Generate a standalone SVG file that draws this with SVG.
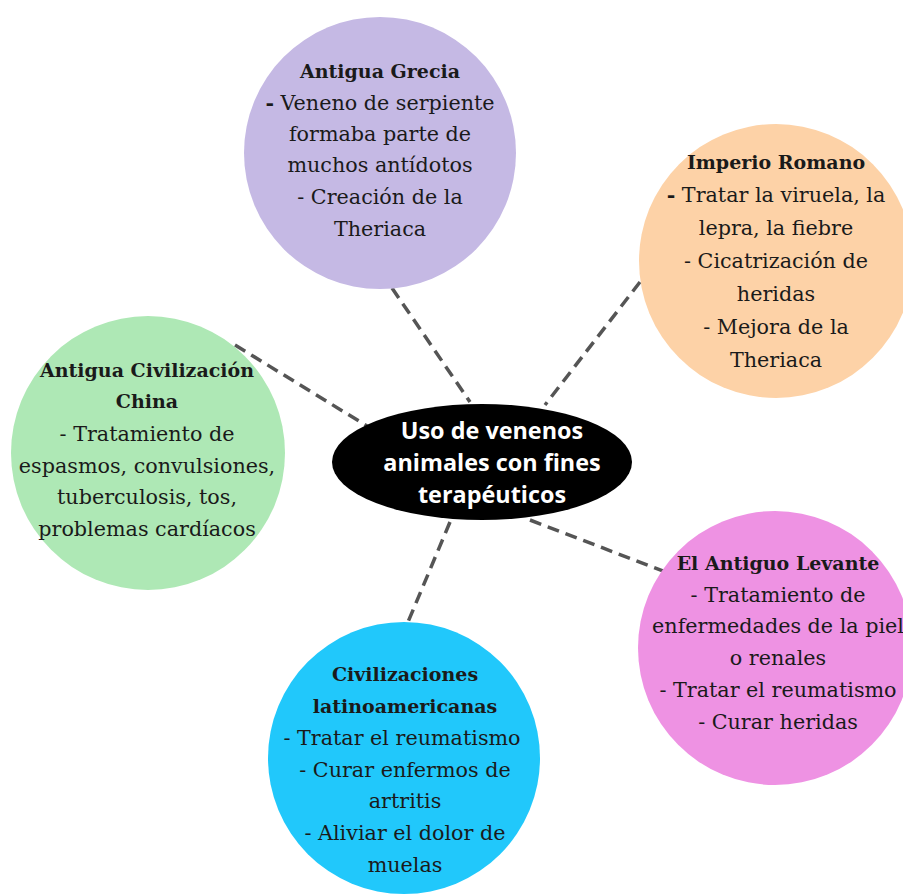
<svg xmlns="http://www.w3.org/2000/svg" width="903" height="894" viewBox="0 0 903 894">
<style>
.t{font-family:"DejaVu Serif","Liberation Serif",serif;font-size:20.7px;fill:#1a1a1a;text-anchor:middle}
.b{font-weight:bold;font-size:19px}
.d{font-weight:bold}
.c{font-family:"Open Sans","DejaVu Sans",sans-serif;font-size:23.4px;font-weight:bold;fill:#fff;text-anchor:middle}
.e{stroke:#555;stroke-width:3.5;stroke-dasharray:12 7;fill:none}
</style>
<rect width="903" height="894" fill="#fff"/>
<g id="connectors">
<line class="e" x1="392" y1="288" x2="470" y2="402"/>
<line class="e" x1="640" y1="282" x2="545" y2="405"/>
<line class="e" x1="235" y1="345" x2="367" y2="426"/>
<line class="e" x1="530" y1="520" x2="676" y2="576"/>
<line class="e" x1="450" y1="522" x2="408" y2="622"/>
</g>
<g id="grecia">
<circle cx="380" cy="153" r="136" fill="#c5b9e4"/>
<text class="t"><tspan class="b" x="380" y="78">Antigua Grecia</tspan><tspan x="380" y="110"><tspan class="d">-</tspan> Veneno de serpiente</tspan><tspan x="380" y="141">formaba parte de</tspan><tspan x="380" y="172">muchos antídotos</tspan><tspan x="380" y="204">- Creación de la</tspan><tspan x="380" y="236">Theriaca</tspan></text>
</g>
<g id="romano">
<circle cx="776" cy="261" r="137" fill="#fdd2a7"/>
<text class="t"><tspan class="b" x="776" y="169">Imperio Romano</tspan><tspan x="776" y="202"><tspan class="d">-</tspan> Tratar la viruela, la</tspan><tspan x="776" y="235">lepra, la fiebre</tspan><tspan x="776" y="268">- Cicatrización de</tspan><tspan x="776" y="301">heridas</tspan><tspan x="776" y="334">- Mejora de la</tspan><tspan x="776" y="367">Theriaca</tspan></text>
</g>
<g id="china">
<circle cx="148" cy="453" r="137" fill="#aee8b5"/>
<text class="t"><tspan class="b" x="147" y="377">Antigua Civilización</tspan><tspan class="b" x="147" y="408">China</tspan><tspan x="147" y="441">- Tratamiento de</tspan><tspan x="147" y="473">espasmos, convulsiones,</tspan><tspan x="147" y="504">tuberculosis, tos,</tspan><tspan x="147" y="536">problemas cardíacos</tspan></text>
</g>
<g id="centro">
<ellipse cx="482" cy="462" rx="150" ry="58" fill="#000"/>
<text class="c"><tspan x="492" y="439">Uso de venenos</tspan><tspan x="492" y="471">animales con fines</tspan><tspan x="492" y="503">terapéuticos</tspan></text>
</g>
<g id="levante">
<circle cx="775" cy="648" r="137" fill="#ee92e3"/>
<text class="t"><tspan class="b" x="778" y="570">El Antiguo Levante</tspan><tspan x="778" y="602">- Tratamiento de</tspan><tspan x="778" y="633">enfermedades de la piel</tspan><tspan x="778" y="665">o renales</tspan><tspan x="778" y="697">- Tratar el reumatismo</tspan><tspan x="778" y="729">- Curar heridas</tspan></text>
</g>
<g id="latino">
<circle cx="404" cy="758" r="136" fill="#21c8fb"/>
<text class="t"><tspan class="b" x="405" y="681">Civilizaciones</tspan><tspan class="b" x="405" y="713">latinoamericanas</tspan><tspan x="402" y="745">- Tratar el reumatismo</tspan><tspan x="405" y="777">- Curar enfermos de</tspan><tspan x="405" y="808">artritis</tspan><tspan x="405" y="840">- Aliviar el dolor de</tspan><tspan x="405" y="872">muelas</tspan></text>
</g>
</svg>
